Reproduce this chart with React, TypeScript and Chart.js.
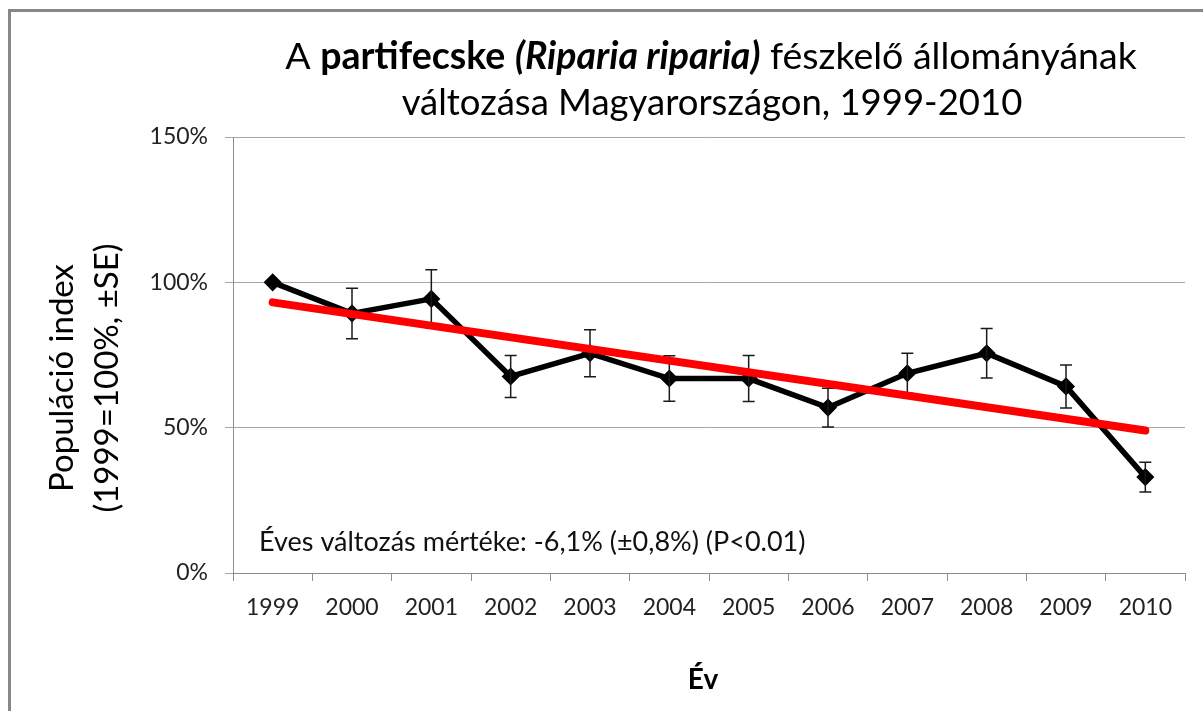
import React, { useEffect, useRef } from 'react';
import { Chart, registerables } from 'chart.js';

Chart.register(...registerables);

// ---- data ----
const years = ['1999', '2000', '2001', '2002', '2003', '2004', '2005', '2006', '2007', '2008', '2009', '2010'];
const populationIndex = [100, 89.3, 94.3, 67.6, 75.6, 66.9, 66.9, 56.9, 68.7, 75.6, 64.2, 33.0];
const standardError = [0, 8.7, 10.0, 7.2, 8.1, 7.8, 7.9, 6.7, 6.9, 8.5, 7.4, 5.1];
const trendLine = [93.1, null, null, null, null, null, null, null, null, null, null, 49.0];
const yTicks = [0, 50, 100, 150];

const titleLine1 = [
  { text: 'A ', weight: 'normal', style: 'normal' },
  { text: 'partifecske', weight: 'bold', style: 'normal' },
  { text: ' ', weight: 'normal', style: 'normal' },
  { text: '(Riparia riparia)', weight: 'bold', style: 'italic' },
  { text: ' fészkelő állományának', weight: 'normal', style: 'normal' },
];
const titleLine2 = 'változása Magyarországon, 1999-2010';
const yTitleLines = ['Populáció index', '(1999=100%, ±SE)'];
const xTitle = 'Év';
const annotationText = 'Éves változás mértéke: -6,1% (±0,8%) (P<0.01)';

const FONT = 'Lato, "Open Sans", sans-serif';

export default function App() {
  const canvasRef = useRef<HTMLCanvasElement | null>(null);

  useEffect(() => {
    const canvas = canvasRef.current;
    if (!canvas) return;

    const background = {
      id: 'background',
      beforeDraw(chart: any) {
        const ctx = chart.ctx;
        ctx.save();
        ctx.fillStyle = '#ffffff';
        ctx.fillRect(0, 0, chart.width, chart.height);
        ctx.fillStyle = '#878787';
        ctx.fillRect(8, 9, chart.width - 8, 3);
        ctx.fillRect(8, 9, 3, chart.height - 9);
        ctx.restore();
      },
    };

    const errorBars = {
      id: 'errorBars',
      afterDatasetDraw(chart: any, args: any) {
        if (args.index !== 0) return;
        const ctx = chart.ctx;
        const xs = chart.scales.x;
        const ys = chart.scales.y;
        ctx.save();
        ctx.strokeStyle = '#1a1a1a';
        ctx.lineWidth = 1.5;
        populationIndex.forEach((v, i) => {
          const se = standardError[i];
          if (!se) return;
          const x = xs.getPixelForValue(i);
          const yTop = ys.getPixelForValue(v + se);
          const yBot = ys.getPixelForValue(v - se);
          ctx.beginPath();
          ctx.moveTo(x, yTop);
          ctx.lineTo(x, yBot);
          ctx.moveTo(x - 6, yTop);
          ctx.lineTo(x + 6, yTop);
          ctx.moveTo(x - 6, yBot);
          ctx.lineTo(x + 6, yBot);
          ctx.stroke();
        });
        ctx.restore();
      },
    };

    const texts = {
      id: 'texts',
      afterDraw(chart: any) {
        const ctx = chart.ctx;
        ctx.save();
        ctx.fillStyle = '#000000';
        ctx.textBaseline = 'alphabetic';
        // title line 1 (mixed runs)
        const size = 37.5;
        const fontOf = (r: any) => `${r.style} ${r.weight} ${size}px ${FONT}`;
        let total = 0;
        titleLine1.forEach((r) => {
          ctx.font = fontOf(r);
          total += ctx.measureText(r.text).width;
        });
        let x = 711 - total / 2;
        ctx.textAlign = 'left';
        titleLine1.forEach((r) => {
          ctx.font = fontOf(r);
          ctx.fillText(r.text, x, 69);
          x += ctx.measureText(r.text).width;
        });
        ctx.textAlign = 'center';
        ctx.font = `normal normal 36.5px ${FONT}`;
        ctx.fillText(titleLine2, 712, 115);

        // y title
        ctx.font = `33px ${FONT}`;
        const yBase = [73, 118];
        yTitleLines.forEach((line, i) => {
          ctx.save();
          ctx.translate(yBase[i], 378);
          ctx.rotate(-Math.PI / 2);
          ctx.textAlign = 'center';
          ctx.fillText(line, 0, 0);
          ctx.restore();
        });

        // x title
        ctx.font = `bold 28px ${FONT}`;
        ctx.textAlign = 'center';
        ctx.fillText(xTitle, 703, 689);

        // annotation
        ctx.font = `27px ${FONT}`;
        ctx.textAlign = 'left';
        ctx.fillStyle = '#111111';
        ctx.fillText(annotationText, 259, 551);
        ctx.restore();
      },
    };

    const chart = new Chart(canvas, {
      type: 'line',
      data: {
        labels: years,
        datasets: [
          {
            label: 'Populáció index',
            data: populationIndex,
            borderColor: '#000000',
            backgroundColor: '#000000',
            borderWidth: 5.5,
            pointStyle: 'rectRot',
            pointRadius: 8,
            pointBorderWidth: 1.5,
            pointBackgroundColor: '#000000',
            pointBorderColor: '#000000',
            tension: 0,
            order: 2,
          },
          {
            label: 'Trend',
            data: trendLine,
            borderColor: '#ff0000',
            borderWidth: 8,
            borderCapStyle: 'round',
            pointRadius: 0,
            spanGaps: true,
            tension: 0,
            order: 1,
          },
        ],
      },
      options: {
        responsive: false,
        animation: false,
        layout: { padding: { top: 137, right: 18, left: 0, bottom: 0 } },
        plugins: {
          legend: { display: false },
          tooltip: { enabled: false },
          title: { display: false },
        },
        scales: {
          x: {
            type: 'category',
            offset: true,
            grid: {
              offset: true,
              drawOnChartArea: false,
              drawTicks: true,
              tickLength: 8,
              color: '#8c8c8c',
            },
            border: { color: '#8c8c8c', width: 1 },
            ticks: {
              font: { family: FONT, size: 23 },
              color: '#222222',
              padding: 13,
              maxRotation: 0,
              autoSkip: false,
            },
            afterFit(scale: any) {
              scale.height = 138;
            },
          },
          y: {
            min: 0,
            max: 150,
            afterBuildTicks(scale: any) {
              scale.ticks = yTicks.map((v) => ({ value: v }));
            },
            ticks: {
              font: { family: FONT, size: 23 },
              color: '#222222',
              padding: 17,
              callback: (v: any) => `${v}%`,
            },
            grid: { color: '#a6a6a6', tickLength: 8 },
            border: { color: '#8c8c8c', width: 1 },
            afterFit(scale: any) {
              scale.width = 233;
            },
          },
        },
      },
      plugins: [background, errorBars, texts],
    });

    return () => chart.destroy();
  }, []);

  return (
    <div style={{ position: 'absolute', left: 0, top: 0, width: 1203, height: 711, background: '#fff' }}>
      <canvas ref={canvasRef} width={1203} height={711} style={{ display: 'block' }} />
    </div>
  );
}
